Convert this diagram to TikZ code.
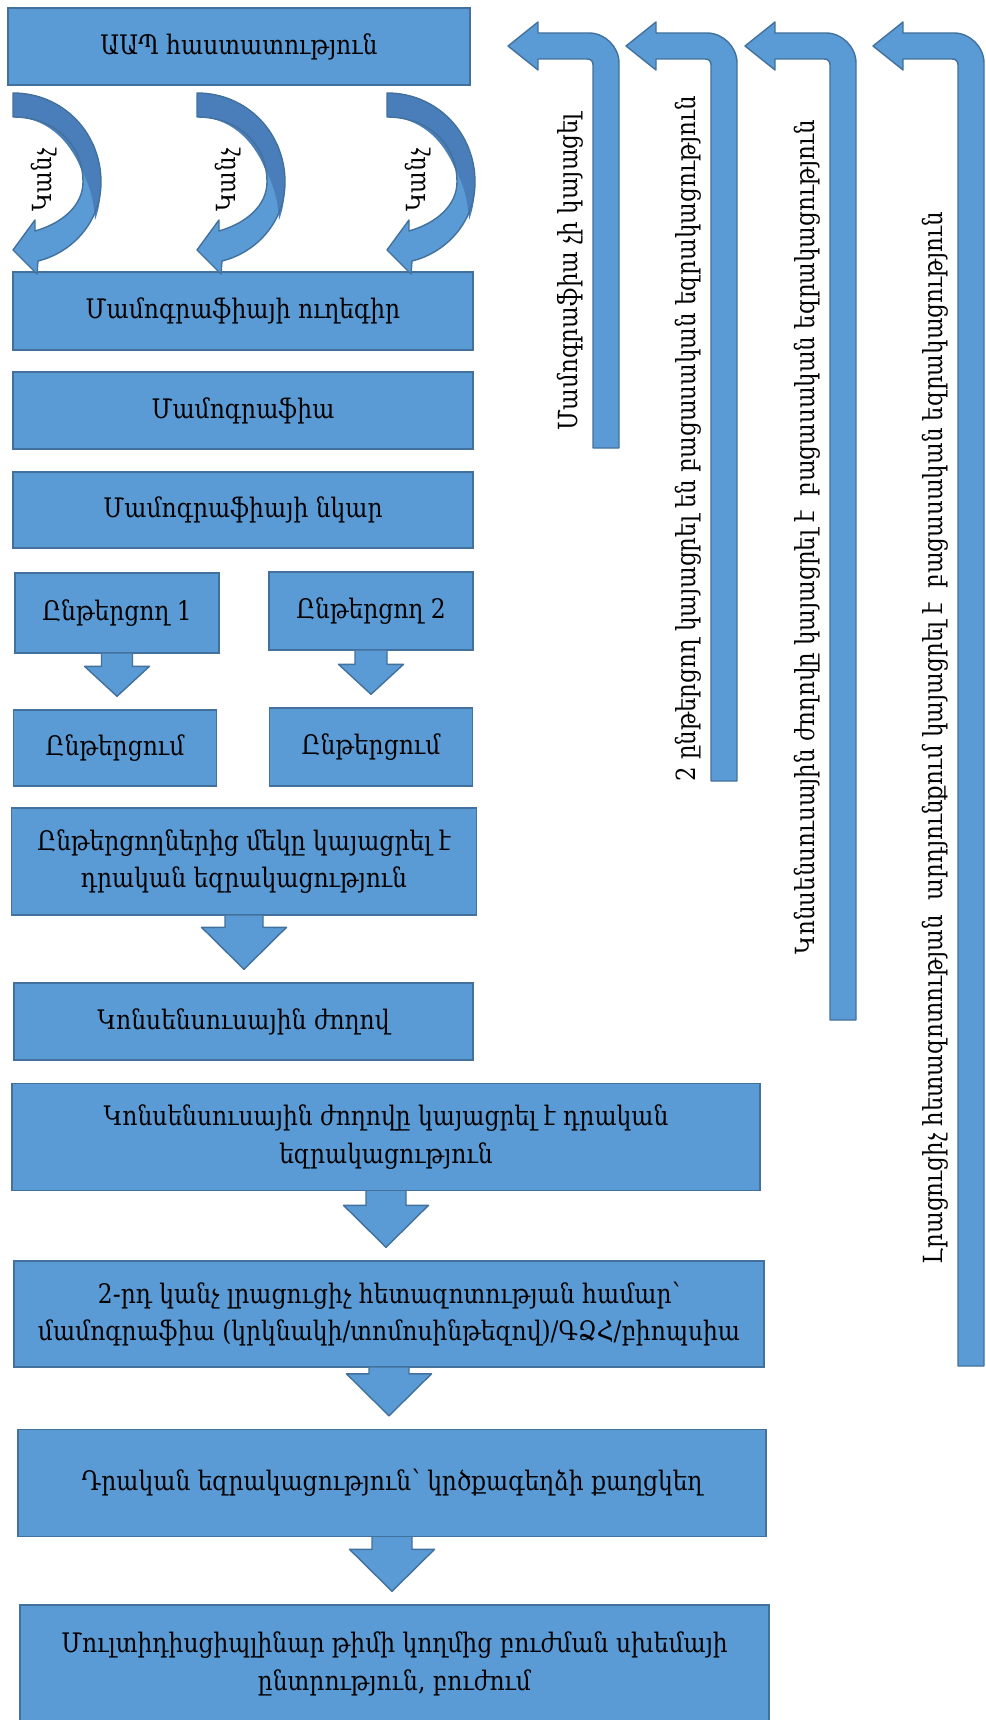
\documentclass[tikz,border=0pt]{standalone}
\usepackage{fontspec}
\setmainfont{DejaVu Serif}[FakeStretch=0.87]
\usetikzlibrary{calc}
\definecolor{boxblue}{HTML}{5B9BD5}
\definecolor{boxline}{HTML}{41719C}
\definecolor{backblue}{HTML}{4A7EBB}
% block arrow straight down: source, target, shaft half width, head half width, head length
\newcommand{\blockdown}[5]{%
  \coordinate (bd) at (#1.south |- #2.north);
  \filldraw[blockarrow] ($(#1.south)+(-#3,0)$) -- ($(bd)+(-#3,-13-#5)$) -- ($(bd)+(-#4,-13-#5)$)
    -- ($(bd)+(0,-13)$) -- ($(bd)+(#4,-13-#5)$) -- ($(bd)+(#3,-13-#5)$) -- ($(#1.south)+(#3,0)$);
}
\begin{document}
\begin{tikzpicture}[x=0.02cm,y=-0.02cm,
  box/.style={draw=boxline,fill=boxblue,line width=0.8pt,inner sep=0pt,align=center,
    font=\fontsize{15.3}{21.5}\selectfont},
  blockarrow/.style={draw=boxline,fill=boxblue,line width=0.8pt,line join=round},
  calltext/.style={rotate=90,inner sep=0pt,font=\fontsize{15}{18}\selectfont},
  sidetext/.style={rotate=90,inner sep=0pt,font=\fontsize{15}{17}\selectfont}]
\fill[white] (0,0) rectangle (985,1720);
\useasboundingbox (0,0) rectangle (985,1720);

% main column
\node[box,minimum width=9.24cm,minimum height=1.54cm] (aap) at (239,46.5) {ԱԱՊ հաստատություն};
\node[box,minimum width=9.2cm,minimum height=1.56cm] (uleg) at (243,311) {Մամոգրաֆիայի ուղեգիր};
\node[box,minimum width=9.2cm,minimum height=1.54cm] (mamm) at (243,410.5) {Մամոգրաֆիա};
\node[box,minimum width=9.2cm,minimum height=1.52cm] (nkar) at (243,510) {Մամոգրաֆիայի նկար};
\node[box,minimum width=4.08cm,minimum height=1.6cm] (rd1) at (117,613) {Ընթերցող 1};
\node[box,minimum width=4.08cm,minimum height=1.56cm] (rd2) at (371,611) {Ընթերցող 2};
\node[box,minimum width=4.06cm,minimum height=1.52cm] (rg1) at (115,748) {Ընթերցում};
\node[box,minimum width=4.06cm,minimum height=1.56cm] (rg2) at (371,747) {Ընթերցում};
\node[box,minimum width=9.3cm,minimum height=2.14cm] (onepos) at (244,861.5) {Ընթերցողներից մեկը կայացրել է\\դրական եզրակացություն};
\node[box,minimum width=9.18cm,minimum height=1.54cm] (cons) at (243.5,1021.5) {Կոնսենսուսային ժողով};
\node[box,minimum width=14.96cm,minimum height=2.14cm] (conspos) at (386,1137) {Կոնսենսուսային ժողովը կայացրել է դրական\\եզրակացություն};
\node[box,minimum width=15cm,minimum height=2.12cm] (second) at (389,1314) {2-րդ կանչ լրացուցիչ հետազոտության համար՝\\մամոգրաֆիա (կրկնակի/տոմոսինթեզով)/ԳՁՀ/բիոպսիա};
\node[box,minimum width=14.96cm,minimum height=2.14cm] (posit) at (392,1483) {Դրական եզրակացություն՝ կրծքագեղձի քաղցկեղ};
\node[box,minimum width=14.98cm,minimum height=2.34cm] (final) at (394.5,1663.5) {Մուլտիդիսցիպլինար թիմի կողմից բուժման սխեմայի\\ընտրություն, բուժում};

\blockdown{rd1}{rg1}{15.5}{32.5}{30}
\blockdown{rd2}{rg2}{16}{32.5}{30}
\blockdown{onepos}{cons}{19}{42.5}{42}
\blockdown{conspos}{second}{20}{42.5}{42}
\blockdown{second}{posit}{20}{42.5}{42}
\blockdown{posit}{final}{20}{42.5}{42}

% curved call arrows
\foreach \dx [count=\i] in {13,197,387} {
  \begin{scope}[shift={(\dx,93)}]
    \fill[boxblue] (0,0) .. controls (50,0) and (88,40) .. (88,89) .. controls (88,130) and (58,160) .. (25,168)
      -- (24,181) -- (0,157) -- (22,127) -- (22,138) .. controls (50,130) and (70,112) .. (70,89)
      .. controls (70,50) and (40,24) .. (0,24) -- cycle;
    \fill[backblue] (0,0) .. controls (50,0) and (88,40) .. (88,89) .. controls (88,105) and (86,116) .. (82,127)
      .. controls (81,108) and (77,92) .. (68,76) .. controls (56,46) and (32,24) .. (0,24) -- cycle;
    \draw[boxline,line width=0.8pt,line join=round] (0,0) .. controls (50,0) and (88,40) .. (88,89) .. controls (88,130) and (58,160) .. (25,168)
      -- (24,181) -- (0,157) -- (22,127) -- (22,138) .. controls (50,130) and (70,112) .. (70,89)
      .. controls (70,50) and (40,24) .. (0,24) -- cycle;
    \node[calltext] (call\i) at (31,87) {Կանչ};
  \end{scope}
}

% return arrows on the right
\foreach \xs/\yb in {593/448,711/781,830/1020,958/1366} {
  \filldraw[blockarrow] (\xs,\yb) -- (\xs,65) .. controls (\xs,61) and (\xs-2,59) .. (\xs-6,59)
    -- (\xs-55,59) -- (\xs-55,70) -- (\xs-85,46) -- (\xs-55,22) -- (\xs-55,33) -- (\xs-4,33)
    .. controls (\xs+12,33) and (\xs+26,47) .. (\xs+26,63) -- (\xs+26,\yb) -- cycle;
}
\node[sidetext] (fb1) at (570,272) {Մամոգրաֆիա չի կայացել};
\node[sidetext] (fb2) at (688,439) {2 ընթերցող կայացրել են բացասական եզրակացություն};
\node[sidetext] (fb3) at (807,537) {Կոնսենսուսային ժողովը կայացրել է\ \ բացասական եզրակացություն};
\node[sidetext] (fb4) at (935,738) {Լրացուցիչ հետազոտության\ \ արդյունքում կայացրել է\ \ բացասական եզրակացություն};
\end{tikzpicture}
\end{document}
